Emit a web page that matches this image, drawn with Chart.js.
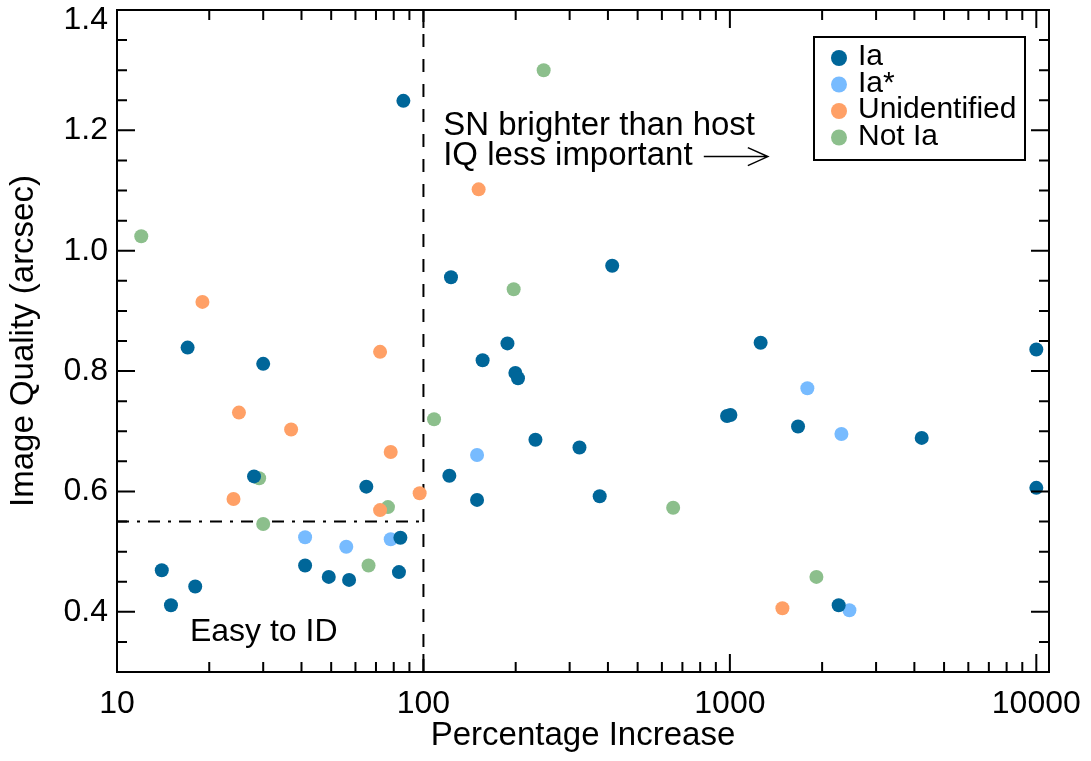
<!DOCTYPE html>
<html>
<head>
<meta charset="utf-8">
<script src="https://cdn.jsdelivr.net/npm/chart.js@4.4.1/dist/chart.umd.min.js"></script>
<style>
  html, body { margin: 0; padding: 0; background: #fff; }
  #wrap { width: 1091px; height: 761px; }
</style>
</head>
<body>
<div id="wrap"><canvas id="c"></canvas></div>
<script>
// values: percentage increase (x, log) vs image quality (y, arcsec)
const iaX = [86, 123, 413, 17.0, 30.0, 188, 156, 199.5, 203.5, 232, 323, 121.5, 149.6, 376, 979, 1004, 1260, 1669, 4227, 10000, 10000, 2265, 28.0, 65.1, 14.0, 15.0, 18.0, 41.1, 49.1, 57.2, 84.1, 83.2];
const iaY = [1.249, 0.956, 0.975, 0.839, 0.812, 0.846, 0.818, 0.797, 0.788, 0.686, 0.673, 0.626, 0.586, 0.592, 0.7255, 0.727, 0.847, 0.708, 0.689, 0.836, 0.606, 0.411, 0.625, 0.608, 0.469, 0.411, 0.442, 0.477, 0.458, 0.453, 0.523, 0.466];

const iaStarX = [41.1, 56.0, 78.2, 149.6, 1790, 2312, 2455];
const iaStarY = [0.524, 0.508, 0.5205, 0.6605, 0.7715, 0.6955, 0.4025];

const unidX = [19.0, 72.2, 25.0, 37.0, 24.0, 78.2, 97.2, 72.2, 151.4, 1484];
const unidY = [0.915, 0.832, 0.731, 0.703, 0.5875, 0.6655, 0.597, 0.569, 1.102, 0.406];

const notIaX = [12.0, 29.1, 30.0, 66.2, 76.6, 108.3, 246.8, 197, 653, 1916];
const notIaY = [1.024, 0.622, 0.546, 0.477, 0.574, 0.72, 1.3, 0.936, 0.573, 0.458];

const xTicks = [10, 100, 1000, 10000];
const yTicks = [0.4, 0.6, 0.8, 1.0, 1.2, 1.4];

const FONT = '"Liberation Sans", Arial, Helvetica, sans-serif';
const font = { family: FONT, size: 32 };
const titleFont = { family: FONT, size: 33 };

function pts(xs, ys) {
  return xs.map((x, i) => ({ x: x, y: ys[i] }));
}

function series(label, xs, ys, color) {
  return {
    label: label,
    data: pts(xs, ys),
    backgroundColor: color,
    borderWidth: 0,
    pointRadius: 7,
    pointHoverRadius: 7,
  };
}

const datasets = [
  series('Ia', iaX, iaY, '#006699'),
  series('Ia*', iaStarX, iaStarY, '#77bbff'),
  series('Unidentified', unidX, unidY, '#ffa066'),
  series('Not Ia', notIaX, notIaY, '#8cbf8c'),
];

// dashed guide lines, drawn under the points
const guides = {
  id: 'guides',
  beforeDatasetsDraw(chart) {
    const { ctx, chartArea: a, scales: { x, y } } = chart;
    ctx.save();
    ctx.strokeStyle = '#000';
    ctx.lineWidth = 2;
    ctx.setLineDash([13, 12]);
    const x100 = x.getPixelForValue(100);
    ctx.beginPath();
    ctx.moveTo(x100, a.bottom);
    ctx.lineTo(x100, a.top);
    ctx.stroke();
    ctx.setLineDash([12, 8, 3, 8]);
    const y55 = y.getPixelForValue(0.55);
    ctx.beginPath();
    ctx.moveTo(a.left, y55);
    ctx.lineTo(x100, y55);
    ctx.stroke();
    ctx.restore();
  }
};

// frame with inward ticks, notes and legend box
const frame = {
  id: 'frame',
  afterDatasetsDraw(chart) {
    const { ctx, chartArea: a, scales: { x, y } } = chart;
    ctx.save();
    ctx.strokeStyle = '#000';
    ctx.fillStyle = '#000';
    ctx.lineWidth = 2;
    ctx.setLineDash([]);
    ctx.strokeRect(a.left, a.top, a.right - a.left, a.bottom - a.top);

    ctx.beginPath();
    for (let i = 7; i <= 28; i++) {
      const py = y.getPixelForValue(i * 0.05);
      const len = i % 4 === 0 ? 18 : 10;
      ctx.moveTo(a.left, py); ctx.lineTo(a.left + len, py);
      ctx.moveTo(a.right, py); ctx.lineTo(a.right - len, py);
    }
    xTicks.forEach(d => {
      for (let k = 1; k <= 9; k++) {
        const v = k * d;
        if (v > x.max) break;
        const px = x.getPixelForValue(v);
        const len = k === 1 ? 18 : 10;
        ctx.moveTo(px, a.bottom); ctx.lineTo(px, a.bottom - len);
        ctx.moveTo(px, a.top); ctx.lineTo(px, a.top + len);
      }
    });
    ctx.stroke();

    // top y label, kept inside the canvas
    const top = yTicks[yTicks.length - 1];
    ctx.font = '32px ' + FONT;
    ctx.textAlign = 'right';
    ctx.textBaseline = 'middle';
    ctx.fillText(top.toFixed(1), a.left - 9, Math.max(y.getPixelForValue(top), 20));

    // notes
    ctx.textBaseline = 'alphabetic';
    ctx.textAlign = 'left';
    ctx.fillText('Easy to ID', x.getPixelForValue(17.3), y.getPixelForValue(0.352));
    ctx.font = '33px ' + FONT;
    ctx.fillText('SN brighter than host', x.getPixelForValue(116), y.getPixelForValue(1.1925));
    ctx.fillText('IQ less important', x.getPixelForValue(116), y.getPixelForValue(1.1425));

    const ay = y.getPixelForValue(1.1564);
    const ax0 = x.getPixelForValue(822);
    const ax1 = x.getPixelForValue(1330);
    ctx.lineWidth = 1.5;
    ctx.beginPath();
    ctx.moveTo(ax0, ay); ctx.lineTo(ax1, ay);
    ctx.moveTo(ax1 - 20, ay - 9); ctx.lineTo(ax1, ay); ctx.lineTo(ax1 - 20, ay + 9);
    ctx.stroke();

    // legend
    const bx = a.right - 235, by = a.top + 27, bw = 211, bh = 123;
    ctx.lineWidth = 2;
    ctx.strokeRect(bx, by, bw, bh);
    ctx.font = '30px ' + FONT;
    chart.data.datasets.forEach((ds, i) => {
      const cy = by + 21 + i * 26.5;
      ctx.fillStyle = ds.backgroundColor;
      ctx.beginPath();
      ctx.arc(bx + 25, cy, 8, 0, Math.PI * 2);
      ctx.fill();
      ctx.fillStyle = '#000';
      ctx.fillText(ds.label, bx + 44, cy + 7);
    });
    ctx.restore();
  }
};

new Chart(document.getElementById('c').getContext('2d'), {
  type: 'scatter',
  data: { datasets: datasets },
  options: {
    responsive: true,
    maintainAspectRatio: false,
    animation: false,
    events: [],
    layout: { padding: { top: 10, right: 42, bottom: 0, left: 0 } },
    plugins: {
      legend: { display: false },
      tooltip: { enabled: false },
    },
    scales: {
      x: {
        type: 'logarithmic',
        min: 10,
        max: 11000,
        grid: { display: false, drawTicks: false },
        border: { display: false },
        afterBuildTicks: s => { s.ticks = xTicks.map(v => ({ value: v })); },
        afterFit: s => { s.height = 89; s.paddingLeft = 0; s.paddingRight = 0; },
        ticks: {
          color: '#000',
          font: font,
          padding: 13,
          maxRotation: 0,
          autoSkip: false,
          callback: v => String(v),
        },
        title: {
          display: true,
          text: 'Percentage Increase',
          color: '#000',
          font: titleFont,
          padding: { top: 0, bottom: 5 },
        },
      },
      y: {
        min: 0.3,
        max: 1.4,
        grid: { display: false, drawTicks: false },
        border: { display: false },
        afterBuildTicks: s => { s.ticks = yTicks.map(v => ({ value: v })); },
        afterFit: s => { s.width = 117; s.paddingTop = 0; s.paddingBottom = 0; },
        ticks: {
          color: '#000',
          font: font,
          padding: 9,
          // the top label is drawn by the frame plugin so it is not clipped
          callback: v => (v >= 1.399 ? '' : v.toFixed(1)),
        },
        title: {
          display: true,
          text: 'Image Quality (arcsec)',
          color: '#000',
          font: titleFont,
          padding: { top: 4, bottom: 0 },
        },
      },
    },
  },
  plugins: [guides, frame],
});
</script>
</body>
</html>
